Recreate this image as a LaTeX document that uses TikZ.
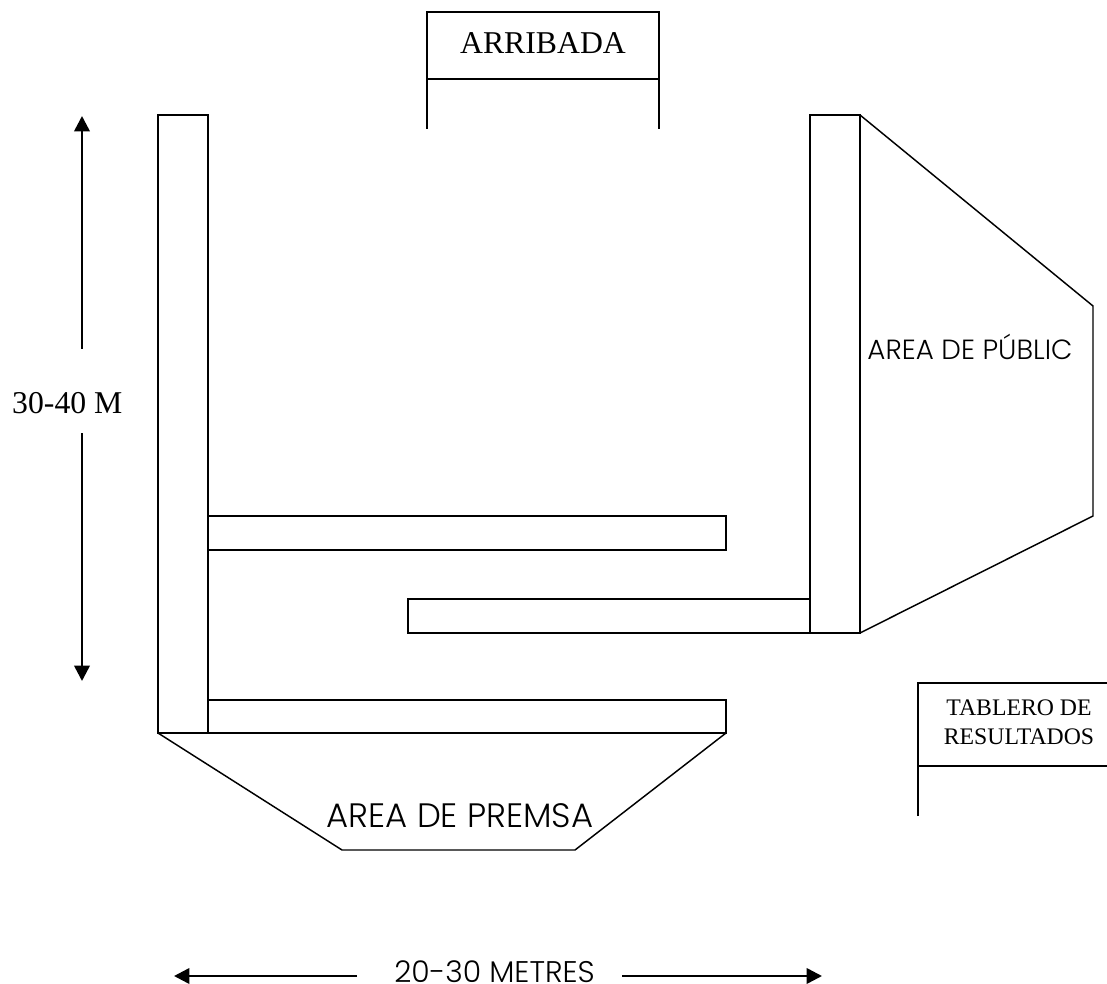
\documentclass[tikz,border=0pt]{standalone}
\usepackage{fontspec}
\setmainfont{Liberation Serif}
\newfontfamily\gothic{Poppins Light}
\usetikzlibrary{arrows.meta}
\tikzset{
  wall/.style={draw=black,line width=1.1pt,fill=white,line join=miter},
  plain/.style={draw=black,line width=1.1pt},
  dim/.style={draw=black,line width=1.9pt,-{Triangle[length=11.5pt,width=11.5pt]}},
  serif/.style={inner sep=0pt,text=black,font=\fontsize{23.8}{26}\selectfont},
  serifsm/.style={inner sep=0pt,text=black,align=center,font=\fontsize{17.8}{22}\selectfont},
  sans/.style={inner sep=0pt,text=black,anchor=base},
}
\begin{document}
\begin{tikzpicture}[x=0.75pt,y=-0.75pt]
\useasboundingbox (0,0) rectangle (1107,984);
% ARRIBADA
\draw[plain] (427,129) -- (427,12) -- (659,12) -- (659,129);
\draw[plain] (427,79) -- (659,79);
\node[serif] (arr) at (543,43) {ARRIBADA};
% walls
\draw[wall] (158,115) rectangle (208,733);
\draw[wall] (208,516) rectangle (726,550);
\draw[wall] (408,599) rectangle (810,633);
\draw[wall] (208,700) rectangle (726,733);
\draw[wall] (810,115) rectangle (860,633);
% public
\draw[plain] (860,115) -- (1093,306) -- (1093,516) -- (860,633);
\node[sans,font=\gothic\fontsize{20.8}{24}\selectfont] (pub) at (970,359) {AREA DE PÚBLIC};
% premsa
\draw[plain] (158,733) -- (342,850) -- (575,850) -- (726,733);
\node[sans,font=\gothic\fontsize{25.4}{28}\selectfont] (prem) at (460,827) {AREA DE PREMSA};
% tablero
\draw[plain] (918,816) -- (918,683) -- (1107,683);
\draw[plain] (918,766) -- (1107,766);
\node[serifsm] (tab) at (1019,722) {TABLERO DE\\RESULTADOS};
% dimensions
\node[serif] (h) at (67.3,403.5) {30-40 M};
\coordinate (hup) at (82,349);
\coordinate (hupe) at (82,116);
\coordinate (hdn) at (82,433);
\coordinate (hdne) at (82,681);
\draw[dim] (hup) -- (hupe);
\draw[dim] (hdn) -- (hdne);
\node[sans,font=\gothic\fontsize{22.4}{26}\selectfont] (w) at (494.5,982.5) {20-30 METRES};
\coordinate (wl) at (357,976);
\coordinate (wle) at (174,976);
\coordinate (wr) at (622,976);
\coordinate (wre) at (822,976);
\draw[dim] (wl) -- (wle);
\draw[dim] (wr) -- (wre);
\end{tikzpicture}
\end{document}
